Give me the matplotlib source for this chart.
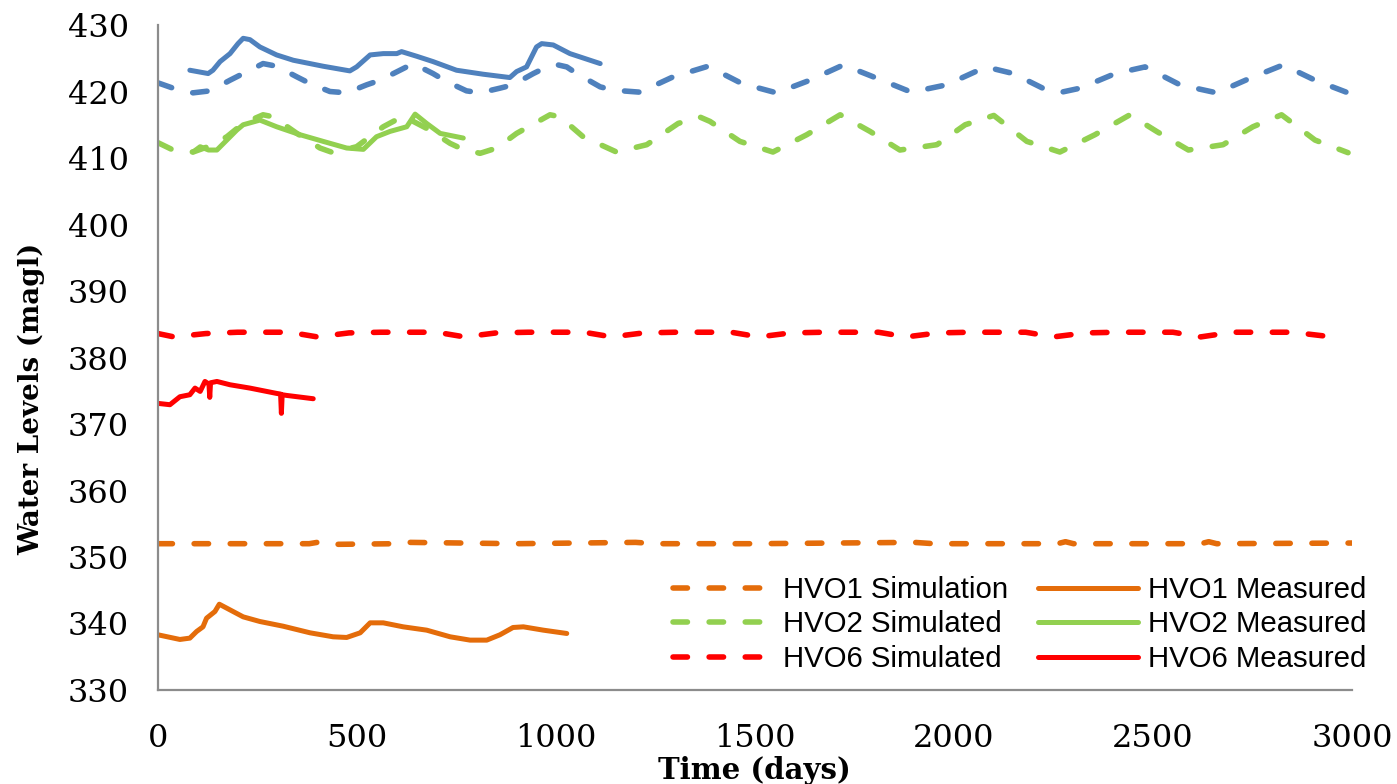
import numpy as np
import matplotlib
matplotlib.use("Agg")
import matplotlib.pyplot as plt

# --- data (days, water level in magl) ---
hvo3_sim_t = [0, 38, 88, 131, 181, 214, 264, 298, 349, 382, 432, 474, 524, 558, 608, 641, 691, 725, 775,
              809, 859, 892, 943, 977, 1005, 1027, 1052, 1111, 1144, 1211, 1294, 1382, 1467, 1554, 1638,
              1722, 1806, 1893, 1981, 2080, 2149, 2233, 2270, 2317, 2405, 2480, 2568, 2660, 2744, 2827,
              2907, 2990]
hvo3_sim_v = [421.3, 420.5, 419.8, 420.1, 421.7, 422.7, 424.2, 423.8, 422.2, 421.2, 420.0, 419.8, 421.0, 421.7,
              423.2, 424.2, 422.7, 421.5, 420.1, 419.8, 420.5, 421.0, 422.7, 423.7, 424.0, 423.7, 422.7, 420.7,
              420.2, 419.9, 422.2, 423.8, 421.2, 419.8, 421.7, 424.0, 422.0, 419.9, 421.0, 423.7, 422.7, 420.2,
              419.9, 420.5, 422.7, 423.7, 421.0, 419.8, 422.0, 424.0, 421.7, 419.8]

hvo3_meas_t = [80, 126, 138, 156, 181, 201, 214, 231, 256, 298, 340, 415, 482, 499, 533, 566, 600, 612, 650,
               691, 750, 817, 884, 901, 926, 951, 964, 993, 1035, 1111]
hvo3_meas_v = [423.2, 422.7, 423.2, 424.5, 425.7, 427.2, 428.0, 427.8, 426.7, 425.5, 424.7, 423.8, 423.1, 423.7,
               425.5, 425.7, 425.7, 426.0, 425.3, 424.5, 423.2, 422.6, 422.1, 423.0, 423.7, 426.7, 427.2, 427.0,
               425.7, 424.2]

hvo2_sim_t = [0, 38, 88, 130, 173, 214, 264, 289, 349, 407, 440, 499, 566, 616, 680, 734, 759, 809, 851, 901,
              985, 1010, 1068, 1152, 1228, 1307, 1360, 1387, 1462, 1545, 1630, 1714, 1789, 1864, 1957, 2028,
              2100, 2183, 2266, 2354, 2442, 2509, 2589, 2676, 2751, 2823, 2907, 2990]
hvo2_sim_v = [412.3, 411.2, 410.9, 411.8, 413.2, 415.2, 416.5, 416.2, 413.7, 411.5, 410.8, 411.7, 414.7, 416.3,
              414.3, 412.2, 411.5, 410.7, 411.5, 413.7, 416.5, 416.2, 413.2, 410.9, 412.0, 415.2, 416.2, 415.5,
              412.5, 410.9, 413.5, 416.5, 414.0, 411.2, 412.0, 415.0, 416.4, 412.5, 410.9, 413.5, 416.5, 414.0,
              411.2, 412.0, 414.7, 416.5, 412.7, 410.8]

hvo2_meas_t = [88, 106, 127, 148, 173, 198, 214, 256, 298, 357, 415, 474, 516, 549, 583, 625, 646, 675, 709, 767]
hvo2_meas_v = [410.9, 411.7, 411.2, 411.2, 412.7, 414.2, 415.0, 415.7, 414.7, 413.5, 412.5, 411.5, 411.3, 413.2,
               414.0, 414.7, 416.6, 415.2, 413.7, 413.0]

hvo6_sim_t = [0, 40, 120, 200, 330, 400, 480, 560, 700, 770, 850, 930, 1070, 1140, 1220, 1300, 1440, 1510,
              1590, 1670, 1810, 1880, 1960, 2040, 2180, 2250, 2330, 2410, 2550, 2620, 2700, 2850, 2950]
hvo6_sim_v = [383.6, 383.1, 383.6, 383.8, 383.8, 383.1, 383.7, 383.8, 383.8, 383.1, 383.7, 383.8, 383.8, 383.1,
              383.7, 383.8, 383.8, 383.1, 383.7, 383.8, 383.8, 383.1, 383.7, 383.8, 383.8, 383.1, 383.7, 383.8,
              383.8, 383.1, 383.8, 383.8, 383.1]

hvo6_meas_t = [0, 30, 55, 80, 93, 106, 118, 128, 130, 132, 148, 181, 231, 298, 308, 310, 312, 323, 390]
hvo6_meas_v = [373.1, 372.9, 374.1, 374.4, 375.4, 374.9, 376.4, 376.0, 374.0, 376.2, 376.4, 375.9, 375.4, 374.6,
               374.5, 371.6, 374.4, 374.3, 373.8]

hvo1_sim_t = [0, 380, 410, 440, 600, 630, 900, 1200, 1250, 1500, 1900, 1950, 2000, 2260, 2280, 2300, 2620,
              2640, 2660, 3000]
hvo1_sim_v = [352.0, 352.0, 352.3, 351.9, 352.0, 352.2, 352.0, 352.2, 352.0, 352.0, 352.2, 352.0, 352.0, 352.0,
              352.3, 352.0, 352.0, 352.3, 352.0, 352.1]

hvo1_meas_t = [0, 55, 80, 97, 113, 122, 143, 154, 173, 214, 256, 314, 382, 440, 474, 508, 533, 566, 616, 675,
               734, 784, 826, 859, 892, 918, 968, 1027]
hvo1_meas_v = [338.3, 337.6, 337.8, 338.8, 339.5, 340.8, 341.8, 342.9, 342.3, 341.0, 340.3, 339.6, 338.6, 338.0,
               337.9, 338.6, 340.1, 340.1, 339.5, 339.0, 338.0, 337.5, 337.5, 338.3, 339.4, 339.5, 339.0, 338.5]

c_blue = "#4F81BD"
c_green = "#92D050"
c_red = "#FF0000"
c_orange = "#E46C0A"

fig = plt.figure(figsize=(13.97, 7.84), dpi=100)
ax = fig.add_axes([0.1131, 0.1199, 0.8547, 0.8482])

dash_kw = dict(lw=4.0, dashes=(2.6, 3.9), dash_capstyle="round")
solid_kw = dict(lw=3.6, solid_capstyle="round", solid_joinstyle="round")

ax.plot(hvo3_sim_t, hvo3_sim_v, color=c_blue, **dash_kw)
ax.plot(hvo3_meas_t, hvo3_meas_v, color=c_blue, **solid_kw)

l1s, = ax.plot(hvo1_sim_t, hvo1_sim_v, color=c_orange, label="HVO1 Simulation", **dash_kw)
l2s, = ax.plot(hvo2_sim_t, hvo2_sim_v, color=c_green, label="HVO2 Simulated", **dash_kw)
l6s, = ax.plot(hvo6_sim_t, hvo6_sim_v, color=c_red, label="HVO6 Simulated", **dash_kw)
l1m, = ax.plot(hvo1_meas_t, hvo1_meas_v, color=c_orange, label="HVO1 Measured", **solid_kw)
l2m, = ax.plot(hvo2_meas_t, hvo2_meas_v, color=c_green, label="HVO2 Measured", **solid_kw)
l6m, = ax.plot(hvo6_meas_t, hvo6_meas_v, color=c_red, label="HVO6 Measured", **solid_kw)

ax.set_xlim(0, 3000)
ax.set_ylim(330, 430)
ax.set_xticks(np.arange(0, 3001, 500))
ax.set_yticks(np.arange(330, 431, 10))

for s in ["top", "right"]:
    ax.spines[s].set_visible(False)
for s in ["left", "bottom"]:
    ax.spines[s].set_color("#8C8C8C")
    ax.spines[s].set_linewidth(1.6)

ax.tick_params(axis="both", length=0)
ax.tick_params(axis="y", pad=21)
ax.tick_params(axis="x", pad=24)
for lab in ax.get_yticklabels() + ax.get_xticklabels():
    lab.set_fontfamily("DejaVu Serif")
    lab.set_fontsize(23)

ax.set_ylabel("Water Levels (magl)", fontfamily="DejaVu Serif", fontweight="bold", fontsize=20)
ax.yaxis.set_label_coords(-0.0946, 0.4376)
ax.set_xlabel("Time (days)", fontfamily="DejaVu Serif", fontweight="bold", fontsize=21)
ax.xaxis.set_label_coords(0.4995, -0.099)

leg = ax.legend(handles=[l1s, l2s, l6s, l1m, l2m, l6m], ncol=2, frameon=False,
                loc="lower right", bbox_to_anchor=(0.989, 0.123), bbox_transform=fig.transFigure,
                prop={"family": "Liberation Sans", "size": 21.2}, handlelength=3.4,
                handletextpad=0.35, columnspacing=1.0, labelspacing=0.22, borderpad=0)

fig.savefig("out.png", dpi=100, facecolor="white")
